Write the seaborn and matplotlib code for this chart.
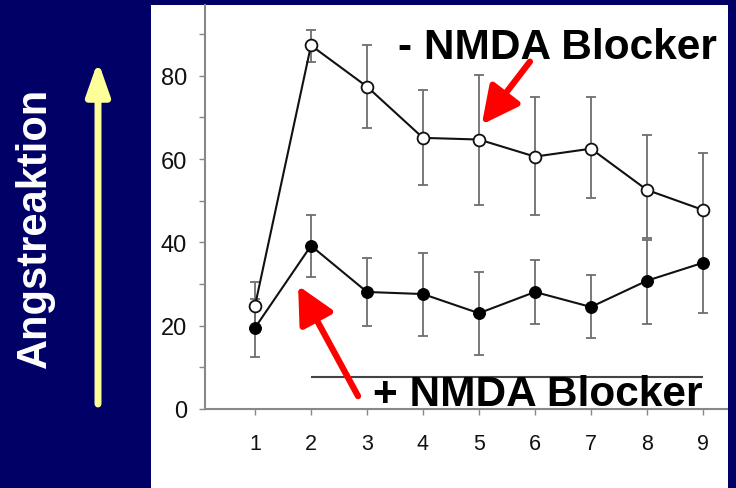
import numpy as np
import pandas as pd
import seaborn as sns
import matplotlib.pyplot as plt
from matplotlib.patches import Rectangle

sns.set_style("ticks")
plt.rcParams['font.family'] = ['Liberation Sans', 'DejaVu Sans']

# values
sessions = [1, 2, 3, 4, 5, 6, 7, 8, 9]
# - NMDA Blocker (open circles)
ohne_mean = [24.8, 87.3, 77.4, 65.1, 64.7, 60.6, 62.5, 52.6, 47.8]
ohne_upper = [30.5, 91.0, 87.5, 76.7, 80.3, 74.8, 74.8, 65.9, 61.5]
ohne_lower = [19.0, 83.4, 67.5, 53.8, 49.0, 46.6, 50.7, 41.0, 34.5]
# + NMDA Blocker (filled circles)
mit_mean = [19.5, 39.2, 28.1, 27.6, 23.0, 28.1, 24.5, 30.8, 35.1]
mit_upper = [26.5, 46.6, 36.3, 37.5, 33.0, 35.8, 32.2, 40.5, 47.0]
mit_lower = [12.5, 31.7, 20.0, 17.5, 13.0, 20.4, 17.0, 20.4, 23.0]
# bar marking the blocker sessions
blocker_span = [2, 9]
blocker_level = 7.7

label_ohne = "- NMDA Blocker"
label_mit = "+ NMDA Blocker"
ylabel = "Angstreaktion"

df = pd.DataFrame({
    'session': sessions * 2,
    'value': ohne_mean + mit_mean,
    'group': ['ohne'] * 9 + ['mit'] * 9,
})

navy = '#000066'
fig = plt.figure(figsize=(7.36, 4.89), dpi=100, facecolor=navy)
fig.patches.append(Rectangle((151 / 736, 0), 577 / 736, 483 / 489, transform=fig.transFigure,
                             facecolor='white', edgecolor='none', zorder=-5))
ax = fig.add_axes([205 / 736, 79 / 489, 522 / 736, 404 / 489])
ax.set_facecolor('none')

# error bars
for m, up, lo in [(ohne_mean, ohne_upper, ohne_lower), (mit_mean, mit_upper, mit_lower)]:
    m = np.array(m)
    ax.errorbar(sessions, m, yerr=[m - np.array(lo), np.array(up) - m], fmt='none',
                ecolor='#6e6e6e', elinewidth=1.3, capsize=3.5, capthick=1.3, zorder=2)

sns.lineplot(data=df[df.group == 'ohne'], x='session', y='value', color='#111', lw=1.5,
             marker='o', markersize=8.5, markerfacecolor='white', markeredgecolor='#111',
             markeredgewidth=1.3, errorbar=None, ax=ax, zorder=3)
sns.lineplot(data=df[df.group == 'mit'], x='session', y='value', color='#111', lw=1.5,
             marker='o', markersize=8.5, markerfacecolor='black', markeredgecolor='black',
             errorbar=None, ax=ax, zorder=3)

ax.hlines(blocker_level, blocker_span[0], blocker_span[1], color='#444', lw=1.5)

ax.set_xlim(0.107, 9.43)
ax.set_ylim(0, 97)
ax.set_xticks(sessions)
ax.set_yticks([0, 20, 40, 60, 80])
ax.set_yticks([10, 30, 50, 70, 90], minor=True)
ax.set_xlabel('')
ax.set_ylabel('')
sns.despine(ax=ax)
for s in ['left', 'bottom']:
    ax.spines[s].set_color('#888')
    ax.spines[s].set_linewidth(1.5)
ax.tick_params(axis='y', which='both', direction='out', length=4, width=1, color='#888',
               labelsize=17, pad=9, labelcolor='#111')
ax.tick_params(axis='x', direction='out', length=4, width=1, color='#888',
               labelsize=15.5, pad=13, labelcolor='#111')

# annotations
fig.text(398 / 736, 1 - 59 / 489, label_ohne, fontsize=30.5, fontweight='bold', color='black',
         ha='left', va='baseline')
fig.text(373 / 736, 1 - 406 / 489, label_mit, fontsize=30.5, fontweight='bold', color='black',
         ha='left', va='baseline')
red_arrow = dict(arrowstyle='-|>,head_length=0.9,head_width=0.45', mutation_scale=25,
                 lw=4.5, color='red', shrinkA=0, shrinkB=0)
ax.annotate('', xy=(5.05, 68.3), xytext=(5.91, 83.4), arrowprops=red_arrow)
ax.annotate('', xy=(1.77, 29.6), xytext=(2.84, 3.1), annotation_clip=False, arrowprops=red_arrow)

# left side: label and arrow
fig.text(35 / 736, 1 - 228 / 489, ylabel, fontsize=30, fontweight='bold', color='white',
         rotation=90, ha='center', va='center')
ax.annotate('', xy=(98, 489 - 62), xytext=(98, 489 - 405), xycoords='figure pixels',
            arrowprops=dict(arrowstyle='-|>,head_length=1.0,head_width=0.35', mutation_scale=20,
                            lw=5, color='#ffff99', shrinkA=0, shrinkB=0))

fig.savefig('out.png', dpi=100, facecolor=navy)
